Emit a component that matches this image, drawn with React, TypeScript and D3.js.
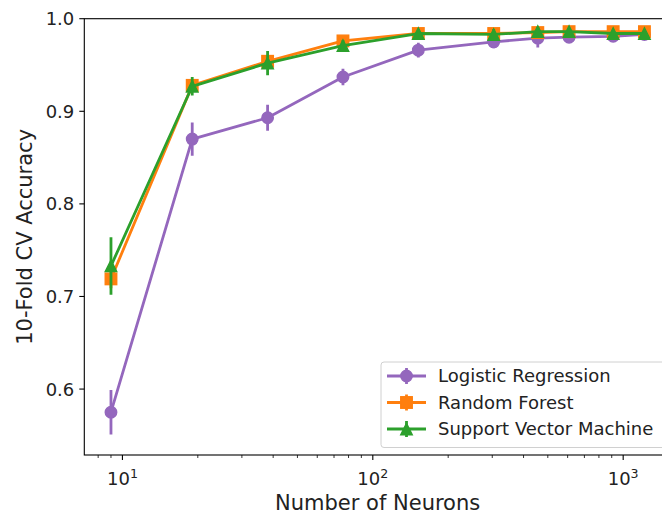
import React from "react";
import * as d3 from "d3";

const neurons = [9, 19, 38, 76, 152, 304, 456, 608, 912, 1216];
const lrMean = [0.575, 0.870, 0.893, 0.937, 0.966, 0.975, 0.979, 0.980, 0.981, 0.983];
const lrErr = [0.024, 0.018, 0.014, 0.009, 0.008, 0.007, 0.010, 0.005, 0.004, 0.003];
const rfMean = [0.719, 0.928, 0.954, 0.976, 0.984, 0.984, 0.985, 0.986, 0.986, 0.986];
const rfErr = [0.010, 0.006, 0.006, 0.005, 0.004, 0.004, 0.004, 0.003, 0.003, 0.003];
const svmMean = [0.733, 0.927, 0.952, 0.971, 0.984, 0.983, 0.986, 0.986, 0.984, 0.984];
const svmErr = [0.031, 0.010, 0.013, 0.006, 0.005, 0.006, 0.005, 0.004, 0.003, 0.003];
const seriesNames = ["Logistic Regression", "Random Forest", "Support Vector Machine"];
const yTicks = [0.6, 0.7, 0.8, 0.9, 1.0];
const xMajor = [10, 100, 1000];

const W = 662;
const H = 516;
const left = 84.3;
const right = 671;
const top = 18.7;
const bottom = 455;
const font = "DejaVu Sans, sans-serif";
const ms = 11.5;

function marker(kind: string, x: number, y: number, color: string, key?: any) {
  const r = ms / 2;
  if (kind === "circle") return <circle key={key} cx={x} cy={y} r={r} fill={color} stroke={color} strokeWidth={1.4} />;
  if (kind === "square") return <rect key={key} x={x - r} y={y - r} width={ms} height={ms} fill={color} stroke={color} strokeWidth={1.4} />;
  return <path key={key} d={`M${x},${y - r}L${x - r},${y + r}L${x + r},${y + r}Z`} fill={color} stroke={color} strokeWidth={1.4} strokeLinejoin="miter" />;
}

export default function App() {
  const x = d3.scaleLog().domain([Math.pow(10, 0.8477), Math.pow(10, 3.191)]).range([left, right]);
  const y = d3.scaleLinear().domain([0.5288, 1.0]).range([bottom, top]);
  const series = [
    { name: seriesNames[0], mean: lrMean, err: lrErr, color: "#9467bd", kind: "circle" },
    { name: seriesNames[1], mean: rfMean, err: rfErr, color: "#ff7f0e", kind: "square" },
    { name: seriesNames[2], mean: svmMean, err: svmErr, color: "#2ca02c", kind: "triangle" },
  ];
  const line = d3.line<number>().x((_, i) => x(neurons[i])).y((d) => y(d));
  const minor: number[] = [];
  for (const dec of [1, 10, 100, 1000]) {
    for (let k = 2; k <= 9; k++) {
      const v = dec * k;
      if (v >= x.domain()[0] && v <= x.domain()[1]) minor.push(v);
    }
  }
  const lx = 381, ly = 362, lw = 290, lh = 85.5;
  return (
    <svg width={W} height={H} style={{ position: "absolute", left: 0, top: 0, background: "#fff" }} fontFamily={font}>
      <rect width={W} height={H} fill="#fff" />
      <defs>
        <clipPath id="clip">
          <rect x={left} y={top} width={right - left} height={bottom - top} />
        </clipPath>
      </defs>
      <g clipPath="url(#clip)">
        {series.map((s) => (
          <g key={s.name}>
            <path d={line(s.mean) || ""} fill="none" stroke={s.color} strokeWidth={2.8} strokeLinejoin="round" />
            {s.mean.map((m, i) => (
              <line key={i} x1={x(neurons[i])} x2={x(neurons[i])} y1={y(m - s.err[i])} y2={y(m + s.err[i])} stroke={s.color} strokeWidth={2.8} />
            ))}
            {s.mean.map((m, i) => marker(s.kind, x(neurons[i]), y(m), s.color, i))}
          </g>
        ))}
      </g>
      {/* spines */}
      <rect x={left} y={top} width={right - left} height={bottom - top} fill="none" stroke="#000" strokeWidth={1.1} />
      {/* y ticks */}
      {yTicks.map((t) => (
        <g key={t}>
          <line x1={left - 5} x2={left} y1={y(t)} y2={y(t)} stroke="#000" strokeWidth={1.1} />
          <text x={left - 10} y={y(t)} dy="0.36em" textAnchor="end" fontSize={18} fill="#222">{t.toFixed(1)}</text>
        </g>
      ))}
      {/* x ticks */}
      {minor.map((t) => (
        <line key={t} x1={x(t)} x2={x(t)} y1={bottom} y2={bottom + 3} stroke="#000" strokeWidth={0.8} />
      ))}
      {xMajor.map((t) => (
        <g key={t}>
          <line x1={x(t)} x2={x(t)} y1={bottom} y2={bottom + 5} stroke="#000" strokeWidth={1.1} />
          <text x={x(t)} y={485} textAnchor="middle" fontSize={18} fill="#222">
            10<tspan dy={-7.5} fontSize={12.6}>{Math.round(Math.log10(t))}</tspan>
          </text>
        </g>
      ))}
      <text x={(left + right) / 2} y={510} textAnchor="middle" fontSize={21} fill="#222">Number of Neurons</text>
      <text transform={`translate(32,${(top + bottom) / 2}) rotate(-90)`} textAnchor="middle" fontSize={21} fill="#222">10-Fold CV Accuracy</text>
      {/* legend */}
      <rect x={lx} y={ly} width={lw} height={lh} rx={3} fill="#fff" fillOpacity={0.8} stroke="#d0d0d0" strokeWidth={1} />
      {series.map((s, i) => {
        const cy = ly + 14 + i * 26.5;
        const x0 = 387, x1 = 426, xm = (x0 + x1) / 2;
        return (
          <g key={s.name}>
            <line x1={x0} x2={x1} y1={cy} y2={cy} stroke={s.color} strokeWidth={2.8} />
            <line x1={xm} x2={xm} y1={cy - 8} y2={cy + 8} stroke={s.color} strokeWidth={2.8} />
            {marker(s.kind, xm, cy, s.color)}
            <text x={438} y={cy} dy="0.36em" fontSize={18} fill="#222">{s.name}</text>
          </g>
        );
      })}
    </svg>
  );
}
